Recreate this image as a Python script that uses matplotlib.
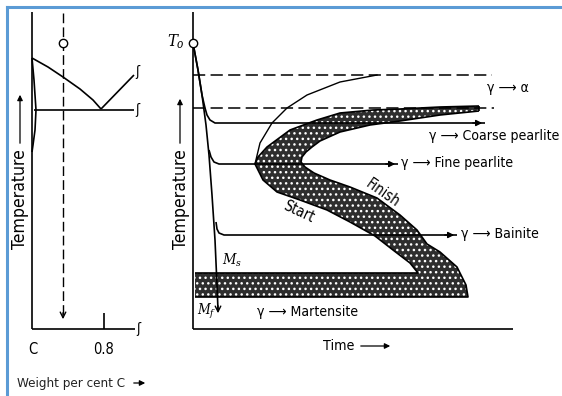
import matplotlib.pyplot as plt
from matplotlib import font_manager as fm

# prefer a condensed sans if one is installed, otherwise Liberation Sans
cond = [f for f in fm.fontManager.ttflist
        if f.style == 'normal' and ('Narrow' in f.name or 'Condensed' in f.name
                                    or f.stretch in ('condensed', 'semi-condensed'))]
if cond:
    plt.rcParams['font.family'] = [cond[0].name, 'DejaVu Sans']
    plt.rcParams['font.stretch'] = cond[0].stretch
    fs = 1.05
else:
    plt.rcParams['font.family'] = ['Liberation Sans', 'DejaVu Sans']
    fs = 1.0
plt.rcParams['mathtext.fontset'] = 'dejavuserif'
plt.rcParams['hatch.linewidth'] = 1.0

# --- left panel: Fe-C diagram sketch (pixel coords, y pointing down) ---
a3_x = [32, 48, 63, 80, 93, 101]
a3_y = [58, 67, 77, 89, 100, 109]
acm_x = [101, 134]
acm_y = [109, 75]
a1_x = [34, 134]
a1_y = [110, 110]
lens_x = [32, 34, 36, 35, 33, 32]
lens_y = [58, 80, 110, 130, 145, 152]
alloy_x = 63            # composition of the steel (dashed line)
eutectoid_x = 104       # 0.8 % C
comp_ticks = [(33, 'C'), (104, '0.8')]

# --- right panel: TTT diagram ---
quench_x = [193, 198, 202, 206, 209, 212, 215, 217, 218]
quench_y = [43, 70, 95, 125, 155, 195, 240, 285, 310]
coarse_x = [193, 198, 202, 205, 207, 210, 215, 485]
coarse_y = [43, 70, 95, 108, 115, 120, 123, 123]
fine_x = [209, 211, 214, 219, 398]
fine_y = [150, 157, 162, 164, 164]
bainite_x = [216, 217, 219, 224, 457]
bainite_y = [222, 229, 233, 235, 235]

ferrite_x = [377, 340, 307, 287, 272, 260, 255]
ferrite_y = [75, 82, 95, 108, 123, 143, 164]

start_x = [479, 440, 400, 373, 340, 317, 290, 267, 258, 255,
           257, 263, 277, 300, 327, 350, 375, 393, 410, 418]
start_y = [106, 107, 109, 110, 113, 120, 130, 147, 157, 164,
           168, 180, 192, 200, 210, 222, 236, 250, 263, 273]
finish_x = [468, 466, 457, 440, 427, 417, 400, 377, 350, 330, 314, 305,
            301, 302, 306, 312, 320, 340, 370, 400, 440, 479]
finish_y = [297, 285, 267, 252, 244, 230, 215, 198, 187, 180, 173, 167,
            162, 157, 152, 147, 141, 132, 125, 121, 115, 111]
ms_y = 273
mf_y = 297
ae3_y = 75
ae1_y = 108

fig = plt.figure(figsize=(5.62, 3.96), dpi=100)
ax = fig.add_axes([0, 0, 1, 1])
ax.set_xlim(0, 562)
ax.set_ylim(396, 0)
ax.axis('off')

k = dict(color='black', lw=1.2, solid_capstyle='butt')
blue = '#5b9bd5'
ax.plot([7, 7], [396, 7], color=blue, lw=2.2)
ax.plot([7, 562], [7, 7], color=blue, lw=2.2)

# left panel
ax.plot([32, 32], [12, 329], **k)
ax.plot([32, 135], [329, 329], **k)
ax.plot(a3_x, a3_y, **k)
ax.plot(acm_x, acm_y, **k)
ax.plot(a1_x, a1_y, **k)
ax.plot(lens_x, lens_y, **k)
ax.plot([eutectoid_x, eutectoid_x], [313, 329], **k)
ax.plot([alloy_x, alloy_x], [13, 318], color='black', lw=1.0, ls=(0, (7, 3)))
ax.plot(alloy_x, 43, 'o', ms=6, mfc='white', mec='black', mew=1)
ax.annotate('', xy=(alloy_x, 322), xytext=(alloy_x, 310),
            arrowprops=dict(arrowstyle='->', lw=1.0, color='black'))
for sx, sy in [(137, 72), (137, 110), (138, 329)]:
    ax.text(sx, sy, 'ʃ', fontsize=10, ha='center', va='center', family='DejaVu Sans')
for cx, lab in comp_ticks:
    ax.text(cx, 350, lab, fontsize=10 * fs, ha='center', va='center')
ax.text(17, 383, 'Weight per cent C', fontsize=9.2 * fs, ha='left', va='center', color='#222')
ax.annotate('', xy=(148, 383), xytext=(131, 383),
            arrowprops=dict(arrowstyle='-|>', lw=0.9, color='black', mutation_scale=8))
ax.text(20, 199, 'Temperature', fontsize=12 * fs, rotation=90, ha='center', va='center')
ax.annotate('', xy=(20, 92), xytext=(20, 146),
            arrowprops=dict(arrowstyle='-|>', lw=0.9, color='black', mutation_scale=8))

# right panel: shaded transformation bands
band_x = start_x + [195, 195] + finish_x
band_y = start_y + [ms_y, mf_y] + finish_y
ax.fill(band_x, band_y, facecolor='#2e2e2e', edgecolor='white', hatch='...', lw=0)
ax.plot(start_x + [195], start_y + [ms_y], **k)
ax.plot([195] + finish_x, [mf_y] + finish_y, **k)
ax.plot([start_x[0], finish_x[-1]], [start_y[0], finish_y[-1]], **k)

ax.plot([193, 193], [12, 329], **k)
ax.plot([193, 513], [329, 329], **k)
ax.plot([193, 492], [ae3_y, ae3_y], color='black', lw=1.1, ls=(0, (8, 3.5)))
ax.plot([193, 494], [ae1_y, ae1_y], color='black', lw=1.1, ls=(0, (8, 3.5)))
ax.plot(ferrite_x, ferrite_y, color='black', lw=1.0)

ax.plot(quench_x, quench_y, **k)
ax.plot(coarse_x, coarse_y, **k)
ax.plot(fine_x, fine_y, **k)
ax.plot(bainite_x, bainite_y, **k)
arr = dict(arrowstyle='-|>', lw=1.0, color='black', mutation_scale=9)
ax.annotate('', xy=(coarse_x[-1], coarse_y[-1]), xytext=(coarse_x[-1] - 15, coarse_y[-1]), arrowprops=arr)
ax.annotate('', xy=(fine_x[-1], fine_y[-1]), xytext=(fine_x[-1] - 15, fine_y[-1]), arrowprops=arr)
ax.annotate('', xy=(bainite_x[-1], bainite_y[-1]), xytext=(bainite_x[-1] - 15, bainite_y[-1]), arrowprops=arr)
ax.annotate('', xy=(quench_x[-1], 316), xytext=(quench_x[-1], 303),
            arrowprops=dict(arrowstyle='->', lw=1.0, color='black'))
ax.plot(193, 43, 'o', ms=6, mfc='white', mec='black', mew=1)

lab = dict(fontsize=9.6 * fs, ha='left', va='center')
ax.text(176, 42, r'$T_o$', fontsize=12, ha='center', va='center')
ax.text(487, 88, 'γ ⟶ α', **lab)
ax.text(429, 136, 'γ ⟶ Coarse pearlite', **lab)
ax.text(401, 163, 'γ ⟶ Fine pearlite', **lab)
ax.text(461, 234, 'γ ⟶ Bainite', **lab)
ax.text(257, 312, 'γ ⟶ Martensite', **lab)
ax.text(383, 193, 'Finish', fontsize=10 * fs, rotation=-35, ha='center', va='center')
ax.text(299, 212, 'Start', fontsize=10 * fs, rotation=-25, ha='center', va='center')
ax.text(222, 260, r'$M_s$', fontsize=10.5, ha='left', va='center')
ax.text(197, 311, r'$M_f$', fontsize=10, ha='left', va='center')
ax.text(323, 346, 'Time', fontsize=9.8 * fs, ha='left', va='center')
ax.annotate('', xy=(393, 346), xytext=(358, 346),
            arrowprops=dict(arrowstyle='-|>', lw=0.9, color='black', mutation_scale=8))
ax.text(181, 199, 'Temperature', fontsize=12 * fs, rotation=90, ha='center', va='center')
ax.annotate('', xy=(180, 96), xytext=(180, 146),
            arrowprops=dict(arrowstyle='-|>', lw=0.9, color='black', mutation_scale=8))

fig.savefig('out.png', dpi=100)
